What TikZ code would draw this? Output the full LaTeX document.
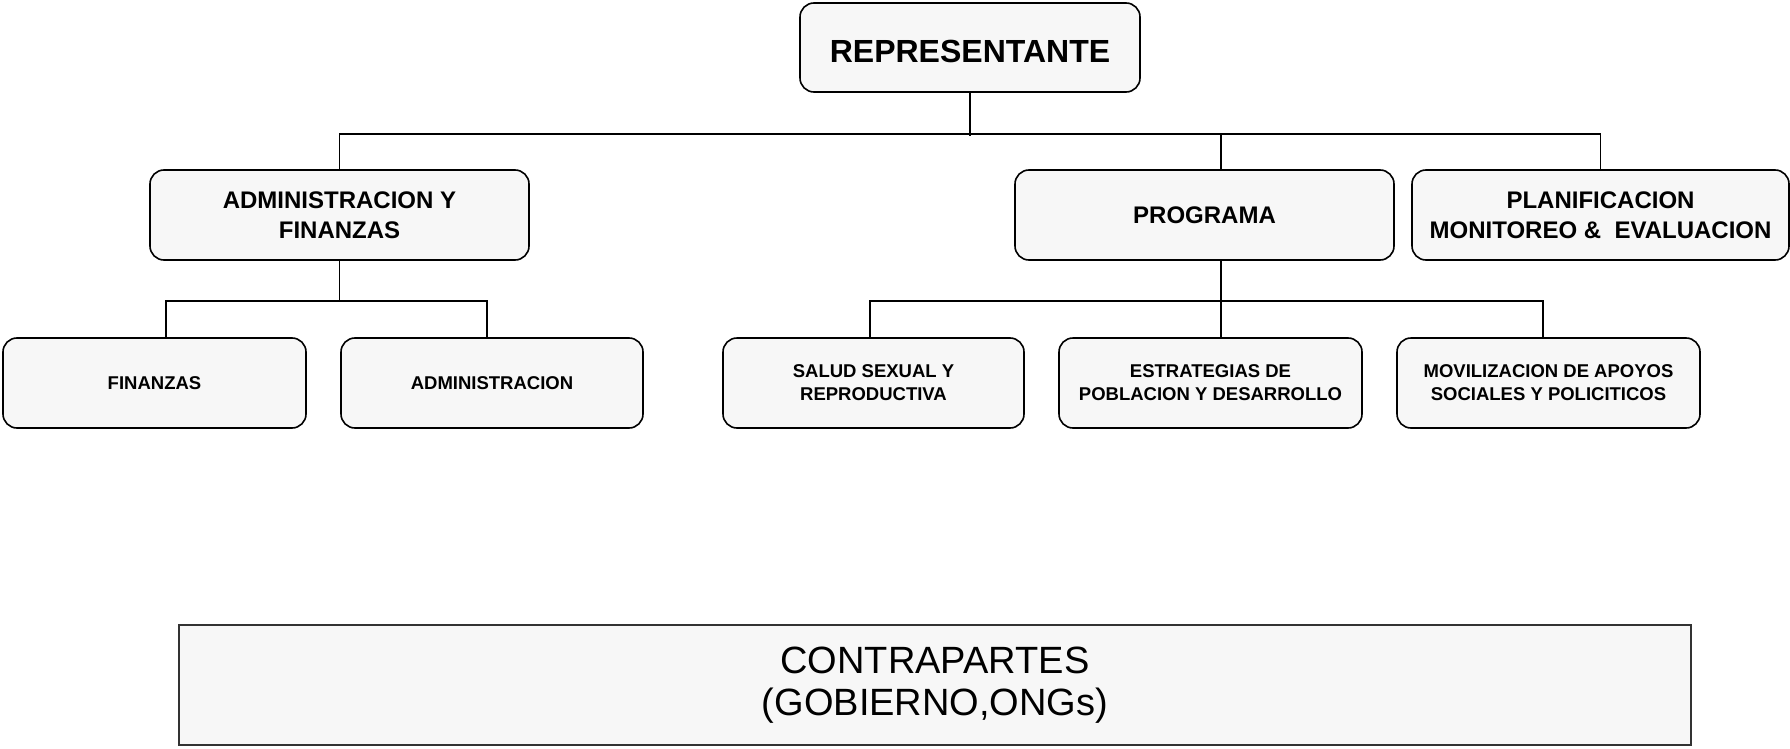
\documentclass[tikz,border=0pt]{standalone}
\usepackage{fontspec}
\setmainfont{Liberation Sans}
\definecolor{boxgray}{HTML}{F7F7F7}
\tikzset{
  unit/.style={draw, rounded corners=14pt, fill=boxgray, line width=1.6pt,
    align=center, inner sep=0pt, minimum height=90pt},
  topfont/.style={font=\bfseries\fontsize{32}{38}\selectfont},
  midfont/.style={font=\bfseries\fontsize{24}{30}\selectfont},
  lowfont/.style={font=\bfseries\fontsize{18.5}{23}\selectfont},
  link/.style={line width=1.3pt}
}
\begin{document}
\begin{tikzpicture}[x=1pt,y=-1pt]
\useasboundingbox (0,0) rectangle (1790,749);

\node[unit, topfont, minimum width=340pt, minimum height=89pt, text height=30pt, text depth=0pt] (rep) at (970,47.5) {REPRESENTANTE};

\node[unit, midfont, minimum width=379pt] (admfin) at (339.5,215) {ADMINISTRACION Y\\FINANZAS};
\node[unit, midfont, minimum width=379pt] (prog) at (1204.5,215) {PROGRAMA};
\node[unit, midfont, minimum width=377pt] (plan) at (1600.5,215) {PLANIFICACION\\MONITOREO \&\ \ EVALUACION};

\node[unit, lowfont, minimum width=303pt] (fin) at (154.5,383) {FINANZAS};
\node[unit, lowfont, minimum width=302pt] (adm) at (492,383) {ADMINISTRACION};
\node[unit, lowfont, minimum width=301pt] (salud) at (873.5,383) {SALUD SEXUAL Y\\REPRODUCTIVA};
\node[unit, lowfont, minimum width=303pt] (estr) at (1210.5,383) {ESTRATEGIAS DE\\POBLACION Y DESARROLLO};
\node[unit, lowfont, minimum width=303pt] (movil) at (1548.5,383) {MOVILIZACION DE APOYOS\\SOCIALES Y POLICITICOS};

\node[draw=black!80, fill=boxgray, line width=2pt, minimum width=1512pt, minimum height=120pt,
  align=center, font=\fontsize{38}{42}\selectfont] (contra) at (935,685) {CONTRAPARTES\\(GOBIERNO,ONGs)};

\coordinate (busA) at (0,134);
\coordinate (busB) at (0,301);
\coordinate (progdrop) at ([xshift=16.5pt]prog.north);
\coordinate (progfoot) at ([xshift=16.5pt]prog.south);
\coordinate (findrop) at ([xshift=11.5pt]fin.north);
\coordinate (admdrop) at ([xshift=-5pt]adm.north);
\coordinate (saluddrop) at ([xshift=-3.5pt]salud.north);
\coordinate (movildrop) at ([xshift=-5.5pt]movil.north);

\draw[link] (rep.south) -- ([yshift=-2pt]rep.south |- busA);
\draw[link] (admfin.north) |- (busA -| plan.north) -- (plan.north);
\draw[link] (progdrop |- busA) -- (progdrop);

\draw[link] (admfin.south) -- (admfin.south |- busB);
\draw[link] (findrop) |- (busB -| admdrop) -- (admdrop);

\draw[link] (progfoot) -- (progfoot |- estr.north);
\draw[link] (saluddrop) |- (busB -| movildrop) -- (movildrop);
\end{tikzpicture}
\end{document}
